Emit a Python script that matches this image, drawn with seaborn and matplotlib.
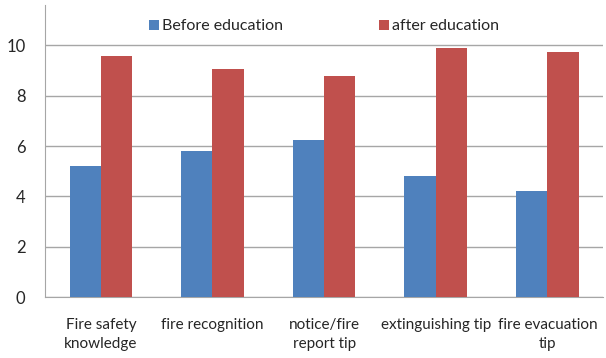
import numpy as np
import pandas as pd
import matplotlib
matplotlib.use("Agg")
import matplotlib.pyplot as plt
import seaborn as sns

categories = ["Fire safety\nknowledge", "fire recognition", "notice/fire\nreport tip",
              "extinguishing tip", "fire evacuation\ntip"]
before = [5.2, 5.8, 6.25, 4.8, 4.2]
after = [9.57, 9.04, 8.8, 9.88, 9.73]
series = ["Before education", "after education"]
colors = ["#4F81BD", "#C0504D"]

df = pd.DataFrame({
    "cat": categories * 2,
    "val": before + after,
    "grp": [series[0]] * 5 + [series[1]] * 5,
})

sns.set_style("white")
plt.rcParams["font.family"] = ["Lato", "DejaVu Sans"]

fig = plt.figure(figsize=(6.06, 3.58), dpi=100)
ax = fig.add_axes([0.0743, 0.170, 0.921, 0.816])

sns.barplot(data=df, x="cat", y="val", hue="grp", palette=colors,
            width=0.56, saturation=1, linewidth=0, ax=ax, zorder=3)

ax.set_ylim(0, 11.6)
ax.set_xlim(-0.5, 4.5)
ax.set_yticks(np.arange(0, 11, 2))
ax.yaxis.grid(True, color="#A6A6A6", linewidth=1, zorder=0)
ax.set_axisbelow(True)
ax.set_xlabel("")
ax.set_ylabel("")

for s in ["top", "right"]:
    ax.spines[s].set_visible(False)
for s in ["left", "bottom"]:
    ax.spines[s].set_color("#A6A6A6")

ax.set_xticks(np.arange(-0.5, 5, 1), minor=True)
ax.tick_params(axis="x", which="major", length=0, pad=15, labelsize=11)
ax.tick_params(axis="x", which="minor", length=5, color="#A6A6A6", direction="out")
ax.tick_params(axis="y", length=5, color="#A6A6A6", labelsize=12, pad=9)
for lbl in ax.get_xticklabels():
    lbl.set_linespacing(1.45)

ax.legend(loc="upper center", bbox_to_anchor=(0.5, 1.0), ncol=2, frameon=False,
          fontsize=11.5, handlelength=0.6, handleheight=0.6, handletextpad=0.2,
          columnspacing=6.0)

fig.savefig("out.png", dpi=100)
